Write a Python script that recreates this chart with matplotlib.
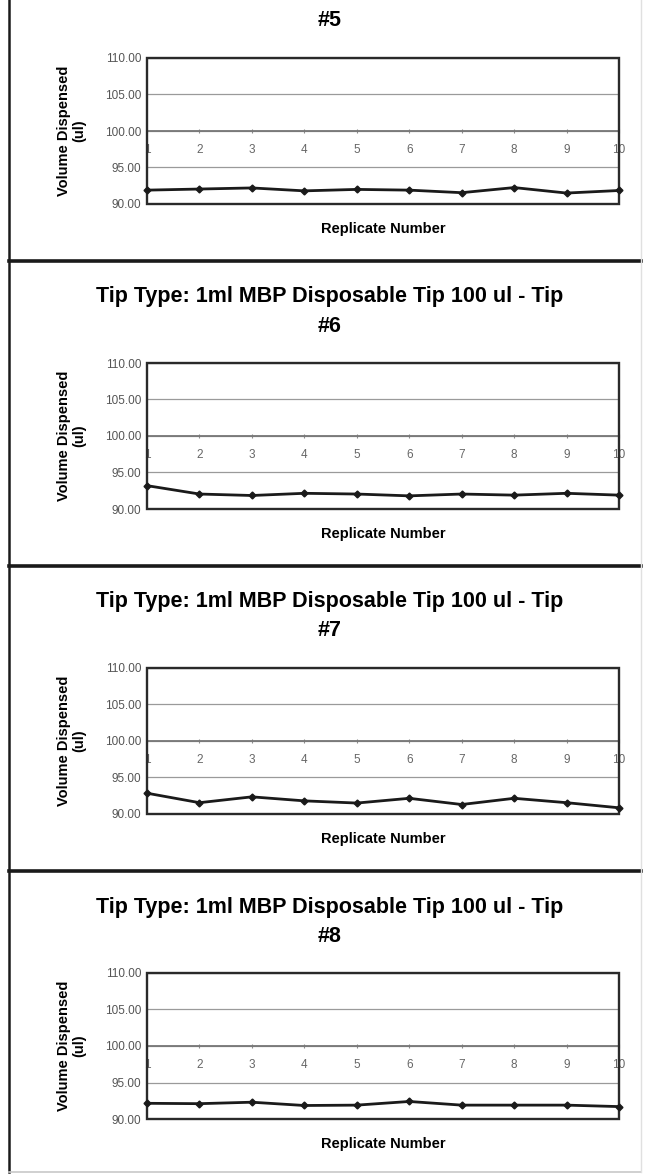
import matplotlib
matplotlib.use('Agg')
import matplotlib.pyplot as plt
from matplotlib.patches import Rectangle
from matplotlib.lines import Line2D
from matplotlib.ticker import FormatStrFormatter

plt.rcParams['font.family'] = ['Liberation Sans', 'DejaVu Sans']

# data
replicates = [1, 2, 3, 4, 5, 6, 7, 8, 9, 10]
tip5 = [91.9, 92.05, 92.2, 91.8, 92.0, 91.9, 91.55, 92.25, 91.5, 91.85]
tip6 = [93.2, 92.05, 91.85, 92.15, 92.05, 91.8, 92.05, 91.9, 92.15, 91.9]
tip7 = [92.85, 91.55, 92.35, 91.8, 91.5, 92.15, 91.3, 92.15, 91.55, 90.85]
tip8 = [92.15, 92.1, 92.3, 91.85, 91.9, 92.4, 91.9, 91.9, 91.9, 91.7]
series = [tip5, tip6, tip7, tip8]
tip_names = ['#5', '#6', '#7', '#8']
y_ticks = [90, 95, 100, 105, 110]
title_line = 'Tip Type: 1ml MBP Disposable Tip 100 ul - Tip'

W, H = 646, 1174
fig = plt.figure(figsize=(W / 100, H / 100), dpi=100)
fig.patch.set_facecolor('white')

def fx(px):
    return px / W

def fy(py):
    return 1 - py / H

step = 305
for i, vals in enumerate(series):
    off = i * step
    top, bottom = 58 + off, 204 + off
    ax = fig.add_axes([fx(147), fy(bottom), fx(619 - 147), (bottom - top) / H])
    ax.set_xlim(1, 10)
    ax.set_ylim(90, 110)

    # excel-style: category axis crosses at 100
    for s in ['top', 'right', 'left']:
        ax.spines[s].set_visible(False)
    ax.spines['bottom'].set_position(('data', 100))
    ax.spines['bottom'].set_color('#777777')
    ax.spines['bottom'].set_linewidth(1.3)
    ax.add_patch(Rectangle((0, 0), 1, 1, transform=ax.transAxes, fill=False,
                           lw=1.7, ec='#2a2a2a', clip_on=False, zorder=4))

    ax.set_yticks(y_ticks)
    ax.yaxis.set_major_formatter(FormatStrFormatter('%.2f'))
    ax.tick_params(axis='y', length=0, pad=4, labelsize=8.5, labelcolor='#555555')
    ax.set_xticks(replicates)
    ax.tick_params(axis='x', direction='inout', length=3, color='#888888',
                   pad=8, labelsize=8.5, labelcolor='#666666')
    ax.grid(axis='y', color='#9a9a9a', lw=0.9)
    ax.set_axisbelow(True)

    ax.plot(replicates, vals, color='#1a1a1a', lw=2, marker='D', ms=3.5,
            clip_on=False, zorder=5)

    ax.text(-0.16, 0.5, 'Volume Dispensed\n(ul)', transform=ax.transAxes,
            rotation=90, ha='center', va='center', fontsize=10.5,
            fontweight='bold', linespacing=1.15)
    ax.text(0.5, -0.17, 'Replicate Number', transform=ax.transAxes,
            ha='center', va='center', fontsize=10.5, fontweight='bold')

    # titles (first panel's top line is cut off in the scan)
    if i > 0:
        fig.text(fx(330), fy(off - 8), title_line,
                 ha='center', va='center', fontsize=15.5, fontweight='bold')
    fig.text(fx(330), fy(21 + off), tip_names[i], ha='center', va='center',
             fontsize=15.5, fontweight='bold')

# panel borders
for yy in [261, 566, 871]:
    fig.add_artist(Line2D([fx(9), fx(641)], [fy(yy), fy(yy)], color='#1a1a1a', lw=2.6))
fig.add_artist(Line2D([fx(9), fx(9)], [fy(0), fy(1172)], color='#1a1a1a', lw=1.8))
fig.add_artist(Line2D([fx(9), fx(641)], [fy(1172), fy(1172)], color='#c8c8c8', lw=1.2))
fig.add_artist(Line2D([fx(641), fx(641)], [fy(0), fy(1172)], color='#e0e0e0', lw=1))

fig.savefig('out.png', dpi=100)
